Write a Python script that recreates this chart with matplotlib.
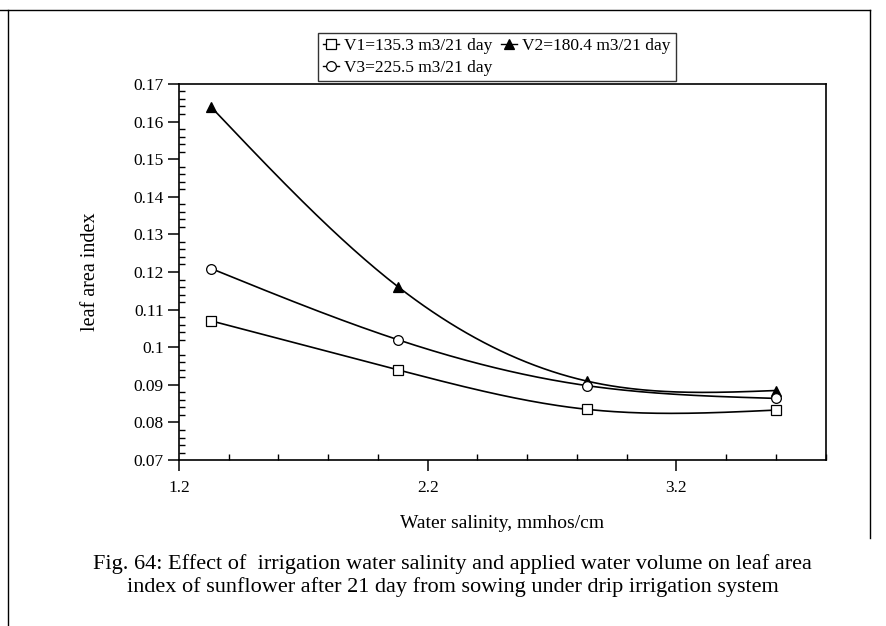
import numpy as np
import matplotlib.pyplot as plt
from matplotlib.lines import Line2D
from matplotlib.ticker import MultipleLocator, FixedLocator

# ---- data ----
salinity = [1.33, 2.08, 2.84, 3.60]
v1 = [0.107, 0.094, 0.0835, 0.0833]
v2 = [0.1638, 0.1161, 0.0910, 0.0885]
v3 = [0.1209, 0.1020, 0.0898, 0.0864]
labels = ["V1=135.3 m3/21 day", "V2=180.4 m3/21 day", "V3=225.5 m3/21 day"]
x_ticks = [1.2, 2.2, 3.2]
y_ticks = [0.07, 0.08, 0.09, 0.10, 0.11, 0.12, 0.13, 0.14, 0.15, 0.16, 0.17]
y_ticklabels = ["0.07", "0.08", "0.09", "0.1", "0.11", "0.12", "0.13",
                "0.14", "0.15", "0.16", "0.17"]


def natural_spline(x, y, n=200):
    # natural cubic spline through the points (smoothed line like the original)
    x = np.asarray(x, float)
    y = np.asarray(y, float)
    k = len(x)
    h = np.diff(x)
    A = np.zeros((k, k))
    b = np.zeros(k)
    A[0, 0] = A[-1, -1] = 1.0
    for i in range(1, k - 1):
        A[i, i - 1] = h[i - 1]
        A[i, i] = 2 * (h[i - 1] + h[i])
        A[i, i + 1] = h[i]
        b[i] = 6 * ((y[i + 1] - y[i]) / h[i] - (y[i] - y[i - 1]) / h[i - 1])
    M = np.linalg.solve(A, b)
    xs = np.linspace(x[0], x[-1], n)
    idx = np.clip(np.searchsorted(x, xs) - 1, 0, k - 2)
    x0, x1 = x[idx], x[idx + 1]
    hh = x1 - x0
    t0, t1 = x1 - xs, xs - x0
    ys = (M[idx] * t0 ** 3 + M[idx + 1] * t1 ** 3) / (6 * hh) \
        + (y[idx] / hh - M[idx] * hh / 6) * t0 \
        + (y[idx + 1] / hh - M[idx + 1] * hh / 6) * t1
    return xs, ys


plt.rcParams["font.family"] = ["Liberation Serif", "DejaVu Serif"]

fig = plt.figure(figsize=(8.86, 6.26), dpi=100)
ax = fig.add_axes([0.202, 0.265, 0.730, 0.601])

styles = [
    dict(marker="s", mfc="white", mec="black", ms=7),
    dict(marker="^", mfc="black", mec="black", ms=7),
    dict(marker="o", mfc="white", mec="black", ms=7),
]
handles = []
for ys, st, lab in zip([v1, v2, v3], styles, labels):
    sx, sy = natural_spline(salinity, ys)
    ax.plot(sx, sy, color="black", lw=1.2)
    ax.plot(salinity, ys, ls="none", mew=0.9, zorder=3, **st)
    handles.append(Line2D([], [], color="black", lw=1.0, mew=0.9, **st))

ax.set_xlim(1.2, 3.8)
ax.set_ylim(0.07, 0.17)
ax.xaxis.set_major_locator(FixedLocator(x_ticks))
ax.xaxis.set_minor_locator(MultipleLocator(0.2))
ax.yaxis.set_major_locator(FixedLocator(y_ticks))
ax.yaxis.set_minor_locator(MultipleLocator(0.002))
ax.set_yticklabels(y_ticklabels)
ax.set_xticklabels([f"{t:.1f}" for t in x_ticks])

ax.tick_params(which="major", direction="out", length=8, width=1.1,
               labelsize=12.5, pad=3)
ax.tick_params(which="minor", direction="in", length=4, width=1.0)
ax.tick_params(axis="x", which="major", pad=6)
for s in ax.spines.values():
    s.set_linewidth(1.2)

ax.set_xlabel("Water salinity, mmhos/cm", fontsize=14, labelpad=14)
ax.set_ylabel("leaf area index", fontsize=14.5, labelpad=24)

leg = fig.legend([handles[0], handles[2], handles[1]],
                 [labels[0], labels[2], labels[1]],
                 ncol=2, loc="upper left", bbox_to_anchor=(0.359, 0.948),
                 fontsize=12.5, frameon=True, fancybox=False, borderaxespad=0,
                 handlelength=0.9, handletextpad=0.3, columnspacing=0.5,
                 labelspacing=0.35, borderpad=0.3)
leg.get_frame().set_edgecolor("black")
leg.get_frame().set_linewidth(1.0)

fig.text(0.511, 0.081,
         "Fig. 64: Effect of  irrigation water salinity and applied water volume on leaf area\n"
         "index of sunflower after 21 day from sowing under drip irrigation system",
         ha="center", va="center", fontsize=16, linespacing=1.2)

# page frame
fig.add_artist(Line2D([0.0, 0.982], [0.984, 0.984], color="black", lw=1.0))
fig.add_artist(Line2D([0.982, 0.982], [0.984, 0.14], color="black", lw=1.0))
fig.add_artist(Line2D([0.009, 0.009], [0.984, 0.0], color="black", lw=1.0))

plt.savefig("out.png", dpi=100)
